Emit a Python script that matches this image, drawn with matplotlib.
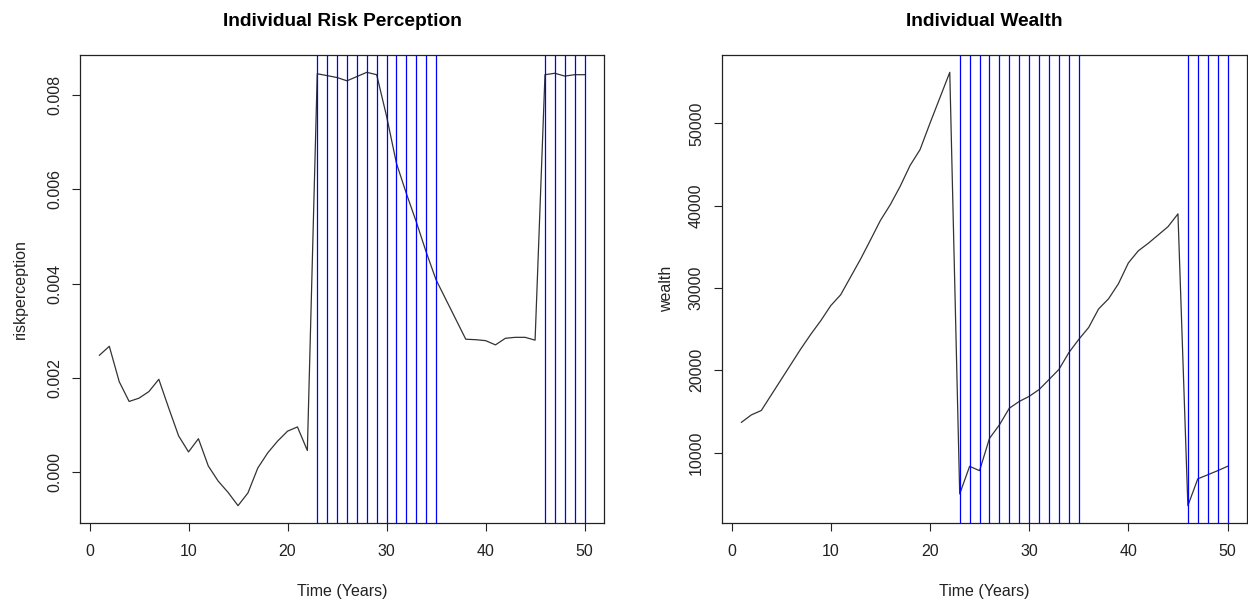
import numpy as np
import matplotlib
matplotlib.use("Agg")
import matplotlib.pyplot as plt


# -----------------------------
# Data
# -----------------------------
years = list(range(1, 51))

riskperception = [
    0.00248, 0.00267, 0.00192, 0.00150, 0.00157, 0.00171, 0.00197, 0.00136, 0.00077, 0.00043,
    0.00071, 0.00013, -0.00019, -0.00043, -0.00071, -0.00044, 0.00009, 0.00041, 0.00066, 0.00087,
    0.00096, 0.00046, 0.00845, 0.00841, 0.00837, 0.00830, 0.00839, 0.00848, 0.00843, 0.00755,
    0.00655, 0.00591, 0.00531, 0.00467, 0.00408, 0.00366, 0.00324, 0.00282, 0.00281, 0.00279,
    0.00270, 0.00284, 0.00286, 0.00286, 0.00280, 0.00843, 0.00846, 0.00840, 0.00843, 0.00843,
]

wealth = [
    13680, 14580, 15110, 16990, 18870, 20750, 22630, 24390, 26030, 27850,
    29170, 31330, 33490, 35820, 38190, 40110, 42350, 44890, 46800, 50000,
    53100, 56200, 4980, 8330, 7800, 11720, 13360, 15390, 16210, 16830,
    17650, 18870, 20100, 22140, 23750, 25200, 27450, 28680, 30510, 33040,
    34510, 35420, 36430, 37450, 39000, 3550, 6810, 7300, 7800, 8330,
]

# years with a shock marker
shock_years = list(range(23, 36)) + list(range(46, 51))

risk_ticks = [0.000, 0.002, 0.004, 0.006, 0.008]
wealth_ticks = [10000, 20000, 30000, 40000, 50000]
year_ticks = [0, 10, 20, 30, 40, 50]


plt.rcParams['font.family'] = ['Liberation Sans', 'DejaVu Sans']

fig = plt.figure(figsize=(12.48, 6.06), dpi=100)
W, H = 1248, 606


def r_panel(rect, x, y, title, ylabel, yticks, yfmt, ylabelpad):
    left, top, right, bottom = rect
    ax = fig.add_axes([left / W, 1 - bottom / H, (right - left) / W, (bottom - top) / H])

    ax.plot(x, y, color='#333333', lw=0.9)
    for s in shock_years:
        ax.axvline(s, color='blue', lw=0.9)

    # R style 4% padding
    ax.margins(x=0.04, y=0.04)

    ax.set_xticks(year_ticks)
    ax.set_yticks(yticks)
    ax.set_yticklabels([yfmt(v) for v in yticks])
    ax.tick_params(direction='out', length=6, width=0.8, labelsize=11.5,
                   color='#222222', labelcolor='#222222', pad=9)
    ax.tick_params(axis='y', labelrotation=90, pad=7)
    for lab in ax.get_yticklabels():
        lab.set_va('center')

    for sp in ax.spines.values():
        sp.set_linewidth(0.9)
        sp.set_color('#222222')

    ax.set_title(title, fontsize=13.8, fontweight='bold', pad=21)
    ax.set_xlabel('Time (Years)', fontsize=11.5, labelpad=18, color='#222222')
    ax.set_ylabel(ylabel, fontsize=11.5, labelpad=ylabelpad, color='#222222')
    return ax


r_panel((80, 55, 604, 523), years, riskperception, 'Individual Risk Perception',
        'riskperception', risk_ticks, lambda v: f'{v:.3f}', 14)
r_panel((722, 55, 1247, 523), years, wealth, 'Individual Wealth',
        'wealth', wealth_ticks, lambda v: f'{v:d}', 11)

fig.savefig('out.png', dpi=100)
